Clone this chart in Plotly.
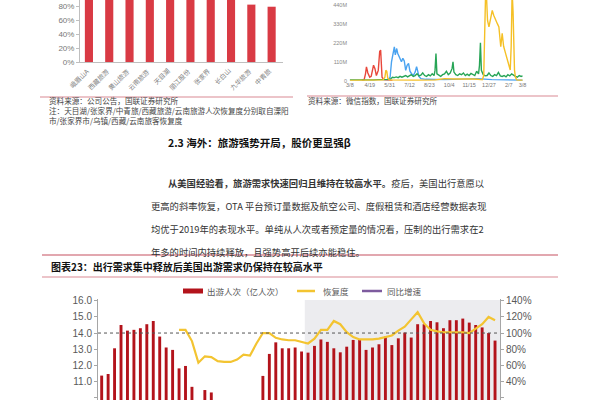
import plotly.graph_objects as go

W, H = 600, 400


def X(px):
    return px / W


def Y(py):
    return 1 - py / H


# ---------------- top-left chart (recovery by company) ----------------
tl_categories = ["峨眉山A", "西藏旅游", "黄山旅游", "云南旅游", "天目湖",
                 "丽江股份", "张家界", "长白山", "九华旅游", "中青旅"]
tl_values = [128, 120, 115, 112, 108, 105, 100, 96, 82, 79]
tl_ticks = [0, 20, 40, 60, 80]
tl_ticktext = ["0%", "20%", "40%", "60%", "80%"]

# ---------------- top-right chart (WeChat index) ----------------
tr_tick_days = [0, 42, 84, 126, 168, 210, 252, 294, 336, 365]
tr_tick_labels = ["3/8", "4/19", "5/31", "7/12", "8/23", "10/4", "11/15", "12/27", "2/7", "3/8"]
tr_y_ticks = [0, 110, 220, 330, 440]
tr_y_labels = ["0", "110M", "220M", "330M", "440M"]

red_days = [25, 30, 33, 35, 38, 42, 45, 48, 50, 53, 56, 60, 63, 65, 68, 72, 80, 90]
red_vals = [3, 5, 40, 80, 45, 20, 25, 60, 90, 70, 30, 60, 170, 178, 20, 5, 3, 2]

blue_days = [80, 85, 88, 91, 94, 96, 99, 101, 104, 107, 109, 112, 115, 118, 121, 124, 127,
             130, 134, 138, 141, 143, 146, 150, 160, 200, 250, 270, 300, 340, 365]
blue_vals = [3, 20, 110, 160, 197, 150, 187, 160, 139, 120, 110, 130, 115, 60, 90, 100, 55,
             42, 30, 50, 81, 60, 25, 12, 8, 6, 8, 12, 6, 4, 3]

green_days = [0, 10, 20, 30, 40, 50, 60, 70, 80, 86, 90, 94, 98, 102, 106, 110, 114, 118, 122,
              126, 130, 134, 138, 142, 146, 150, 154, 158, 162, 166, 170, 174, 178, 180, 182,
              184, 188, 192, 196, 200, 204, 208, 212, 216, 218, 220, 224, 228, 232, 236, 240,
              244, 248, 252, 256, 260, 264, 268, 272, 274, 276, 278, 282, 286, 290, 294, 298,
              302, 306, 310, 314, 318, 322, 326, 330, 334, 338, 342, 346, 350, 354, 358, 362, 365]
green_vals = [5, 4, 6, 3, 5, 4, 6, 5, 6, 10, 20, 18, 22, 18, 25, 20, 24, 30, 22,
              28, 35, 25, 30, 40, 28, 32, 45, 30, 25, 35, 28, 40, 30, 60, 158,
              40, 30, 25, 35, 40, 55, 35, 45, 70, 110, 50, 35, 30, 40, 35, 45,
              30, 38, 30, 42, 35, 30, 55, 40, 90, 220, 60, 35, 28, 30, 45, 30,
              25, 35, 30, 48, 28, 25, 30, 22, 35, 28, 40, 30, 25, 20, 30, 25, 28]

yellow_days = [0, 20, 40, 60, 70, 74, 76, 78, 80, 84, 100, 140, 180, 190, 200, 220, 240, 260,
               270, 280, 283, 285, 287, 289, 291, 294, 297, 301, 304, 308, 312, 315, 317, 319,
               322, 325, 329, 333, 336, 339, 341, 343, 345, 346, 348, 350, 353, 358, 365]
yellow_vals = [2, 3, 2, 3, 4, 20, 60, 55, 15, 4, 3, 3, 4, 10, 12, 10, 12, 10,
               8, 5, 30, 300, 520, 480, 350, 313, 360, 409, 380, 351, 330, 313, 240, 197,
               276, 200, 160, 120, 81, 62, 200, 520, 400, 276, 62, 20, 4, 3, 3]

# ---------------- bottom chart (US travel) ----------------
bt_index = list(range(62))
bt_trips = [11.35, 11.45, 13.05, 14.5, 14.15, 14.2, 14.3, 14.55, 14.75, 13.78,
            13.1, 12.95, 11.8, 11.95, 10.65, 8.3, 10.45, 10.3, 6.5, 5.9,
            6.1, 6.8, 7.4, 8.2, 9.1, 11.33, 12.7, 13.42, 13.05, 13.05,
            13.1, 12.85, 12.78, 13.2, 13.6, 13.45, 13.05, 12.8, 13.15, 13.57,
            13.6, 12.95, 13.1, 13.3, 13.78, 13.25, 13.67, 14.03, 13.72, 14.55,
            14.55, 14.75, 14.67, 14.3, 14.8, 14.8, 14.9, 14.65, 14.5, 14.35,
            14.0, 13.53]
bt_recovery = [None] * 12 + [104, 104, 90, 63, 71, 70, 65, 64, 64, 67,
                             73, 72, 87, 100, 100, 94, 92, 91, 91, 89,
                             87, 93, 104, 104, 115, 111, 101, 95, 92, 92,
                             92, 93, 95, 97, 103, 108, 117, 126, 112, 104,
                             102, 101, 101, 101, 101, 100, 106, 111, 120, 116]
bt_left_ticks = [10, 11, 12, 13, 14, 15, 16]
bt_left_text = ["10.0", "11.0", "12.0", "13.0", "14.0", "15.0", "16.0"]
bt_right_ticks = [20, 40, 60, 80, 100, 120, 140]
bt_right_text = ["20%", "40%", "60%", "80%", "100%", "120%", "140%"]
bt_ref_level = 14.0
bt_shade_start = 31.5

FONT_CJK = "Noto Sans CJK SC"
FONT_LAT = "Liberation Sans, Arial, sans-serif"

fig = go.Figure()

# top-left bars
fig.add_trace(go.Bar(x=list(range(len(tl_categories))), y=tl_values, width=0.4,
                     marker=dict(color="#d93a44", line=dict(width=0)),
                     xaxis="x", yaxis="y", showlegend=False))

# top-right lines
for d, v, c in [(red_days, red_vals, "#e8473b"),
                (blue_days, blue_vals, "#4aa3f0"),
                (green_days, green_vals, "#27a556"),
                (yellow_days, yellow_vals, "#f5c026")]:
    fig.add_trace(go.Scatter(x=d, y=v, mode="lines", line=dict(color=c, width=1.4),
                             xaxis="x2", yaxis="y2", showlegend=False))

# bottom bars + recovery line
fig.add_trace(go.Bar(x=bt_index, y=bt_trips, width=0.45,
                     marker=dict(color="#b3131b", line=dict(width=0)),
                     xaxis="x3", yaxis="y3", showlegend=False))
fig.add_trace(go.Scatter(x=bt_index, y=bt_recovery, mode="lines",
                         line=dict(color="#f3c431", width=2.2),
                         xaxis="x3", yaxis="y4", showlegend=False))

tick_font_tl = dict(family=FONT_LAT, size=8, color="#777777")

bt_y_top = 16.12
bt_y_bot = 9.83


def to_right(v):
    return (v - bt_ref_level) * 20 + 100


layout = dict(
    width=W, height=H, template="none",
    margin=dict(l=0, r=0, t=0, b=0),
    paper_bgcolor="white", plot_bgcolor="white",
    font=dict(family=FONT_CJK, color="#333333"),
    showlegend=False,
    xaxis=dict(domain=[X(80), X(283)], range=[-0.44, 9.56], anchor="y",
               showticklabels=False,
               showline=True, linecolor="#bfbfbf", linewidth=1, showgrid=False,
               zeroline=False, ticks="", automargin=False),
    yaxis=dict(domain=[Y(62), 1], range=[0, 88.6], anchor="x",
               tickvals=tl_ticks, ticktext=tl_ticktext, tickfont=tick_font_tl,
               showline=True, linecolor="#bfbfbf", linewidth=1, ticks="outside",
               ticklen=3, tickcolor="#bfbfbf", showgrid=False, zeroline=False,
               automargin=False),
    xaxis2=dict(domain=[X(348), X(523)], range=[-4, 366], anchor="y2",
                tickvals=tr_tick_days, ticktext=tr_tick_labels,
                tickfont=dict(family=FONT_LAT, size=5.5, color="#777777"),
                showline=False, showgrid=False, zeroline=False, ticks="",
                automargin=False),
    yaxis2=dict(domain=[Y(80.7), 1], range=[0, 469], anchor="x2",
                tickvals=tr_y_ticks, ticktext=tr_y_labels,
                tickfont=dict(family=FONT_LAT, size=5.5, color="#888888"),
                showline=False, showgrid=False, zeroline=False, ticks="",
                automargin=False),
    xaxis3=dict(domain=[X(98), X(500)], range=[-0.57, 61.77], anchor="y3",
                visible=False, automargin=False),
    yaxis3=dict(domain=[0, Y(299)], range=[bt_y_bot, bt_y_top], anchor="x3",
                tickvals=bt_left_ticks, ticktext=bt_left_text,
                tickfont=dict(family=FONT_LAT, size=10, color="#595959"),
                showline=True, linecolor="#a6a6a6", linewidth=1, ticks="outside",
                ticklen=3, tickcolor="#a6a6a6", showgrid=False, zeroline=False,
                automargin=False),
    yaxis4=dict(overlaying="y3", side="right", anchor="x3",
                range=[to_right(bt_y_bot), to_right(bt_y_top)],
                tickvals=bt_right_ticks, ticktext=bt_right_text,
                tickfont=dict(family=FONT_LAT, size=10, color="#595959"),
                showline=True, linecolor="#a6a6a6", linewidth=1, ticks="outside",
                ticklen=3, tickcolor="#a6a6a6", showgrid=False, zeroline=False,
                automargin=False),
)
fig.update_layout(**layout)

rule_color = "#d98a94"
shapes = [
    dict(type="rect", xref="x3", yref="y3", x0=bt_shade_start, x1=61.77,
         y0=bt_y_bot, y1=16.05, fillcolor="#ececef", line=dict(width=0), layer="below"),
    dict(type="line", xref="paper", yref="y3", x0=X(98), x1=X(500),
         y0=bt_ref_level, y1=bt_ref_level, line=dict(color="#555555", width=1, dash="dot")),
    dict(type="line", xref="paper", yref="paper", x0=X(40), x1=X(293), y0=Y(97), y1=Y(97),
         line=dict(color=rule_color, width=1.2)),
    dict(type="line", xref="paper", yref="paper", x0=X(307), x1=X(558), y0=Y(96), y1=Y(96),
         line=dict(color=rule_color, width=1.2)),
    dict(type="line", xref="paper", yref="paper", x0=X(42), x1=X(558), y0=Y(255), y1=Y(255),
         line=dict(color=rule_color, width=1.5)),
    dict(type="line", xref="paper", yref="paper", x0=X(42), x1=X(558), y0=Y(277), y1=Y(277),
         line=dict(color=rule_color, width=1.2)),
    dict(type="rect", xref="paper", yref="paper", x0=X(183), x1=X(203), y0=Y(293.5), y1=Y(288.5),
         fillcolor="#b3131b", line=dict(width=0)),
    dict(type="line", xref="paper", yref="paper", x0=X(297), x1=X(315), y0=Y(291), y1=Y(291),
         line=dict(color="#f3c431", width=2.5)),
    dict(type="line", xref="paper", yref="paper", x0=X(362), x1=X(382), y0=Y(291), y1=Y(291),
         line=dict(color="#7d5b9e", width=2.5)),
]
fig.update_layout(shapes=shapes)


def note(text, px, py, size, color="#333333", xanchor="left"):
    return dict(text=text, x=X(px), y=Y(py), xref="paper", yref="paper",
                xanchor=xanchor, yanchor="middle", showarrow=False,
                font=dict(family=FONT_CJK, size=size, color=color))


annotations = [
    note("资料来源：公司公告，国联证券研究所", 47, 100.5, 7.6, "#444444"),
    note("注：天目湖/张家界/中青旅/西藏旅游/云南旅游人次恢复度分别取自溧阳", 47, 110, 7.6, "#444444"),
    note("市/张家界市/乌镇/西藏/云南旅客恢复度", 47, 120, 7.6, "#444444"),
    note("资料来源：微信指数，国联证券研究所", 306, 100.5, 7.6, "#444444"),
    note("<b>2.3 海外：旅游强势开局，股价更显强β</b>", 166, 143, 10.5, "#111111"),
    note("<b>从美国经验看，旅游需求快速回归且维持在较高水平。</b>疫后，美国出行意愿以",
         166, 182.5, 9.3, "#333333"),
    note("更高的斜率恢复，OTA 平台预订量数据及航空公司、度假租赁和酒店经营数据表现",
         149, 206, 9.3, "#333333"),
    note("均优于2019年的表现水平。单纯从人次或者预定量的情况看，压制的出行需求在2",
         149, 229, 9.3, "#333333"),
    note("年多的时间内持续释放，且强势高开后续亦能稳住。", 149, 252, 9.3, "#333333"),
    note("<b>图表23：出行需求集中释放后美国出游需求仍保持在较高水平</b>", 49, 266, 10, "#111111"),
    note("出游人次（亿人次）", 205, 291, 8.5, "#595959"),
    note("恢复度", 321, 291, 8.5, "#595959"),
    note("同比增速", 385, 291, 8.5, "#595959"),
]

# rotated category labels for the top-left chart, positioned on its x scale
for i, name in enumerate(tl_categories):
    annotations.append(dict(text=name, x=i, xref="x", y=Y(63), yref="paper",
                            xanchor="right", yanchor="top", xshift=5,
                            textangle=-45, showarrow=False,
                            font=dict(family=FONT_CJK, size=6.5, color="#808080")))

fig.update_layout(annotations=annotations)

fig.write_html("out.html", config={"displayModeBar": False},
               post_script="document.body.style.margin='0';document.body.style.overflow='hidden';")
